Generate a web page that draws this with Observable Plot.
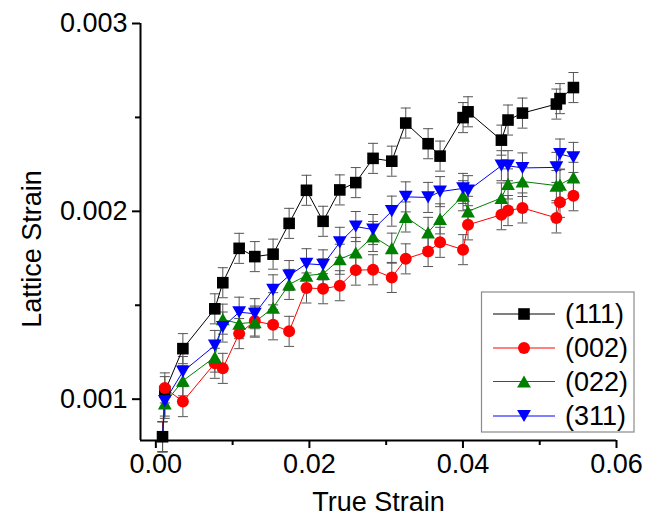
<!DOCTYPE html>
<html>
<head>
<meta charset="utf-8">
<script src="https://cdn.jsdelivr.net/npm/d3@7"></script>
<script src="https://cdn.jsdelivr.net/npm/@observablehq/plot@0.6"></script>
<style>
  html, body { margin: 0; padding: 0; background: #ffffff; }
  #chart svg { display: block; }
</style>
</head>
<body>
<div id="chart"></div>
<script>
// ---- data ----
const trueStrain = [0.00087, 0.00117, 0.00352, 0.00768, 0.00872, 0.01085, 0.01289, 0.01527, 0.01736,
  0.01962, 0.02178, 0.02396, 0.02604, 0.02829, 0.03073, 0.03255, 0.03546, 0.03702, 0.04001,
  0.04066, 0.04501, 0.04587, 0.04775, 0.05217, 0.05264, 0.05439];

const strain111 = [0.00080, 0.00104, 0.001269, 0.001481, 0.001620, 0.001803, 0.001759, 0.001772, 0.001936,
  0.002112, 0.001947, 0.002114, 0.002153, 0.002282, 0.002267, 0.002470, 0.002360, 0.002294, 0.002499,
  0.002530, 0.002379, 0.002486, 0.002523, 0.002571, 0.002600, 0.002659];

const strain002 = [0.00080, 0.001060, 0.000987, 0.001191, 0.001164, 0.001349, 0.001416, 0.001396, 0.001361,
  0.001592, 0.001588, 0.001604, 0.001687, 0.001689, 0.001648, 0.001747, 0.001786, 0.001835, 0.001796,
  0.001928, 0.001982, 0.002004, 0.002018, 0.001965, 0.002048, 0.002083];

const strain022 = [0.00080, 0.000978, 0.001098, 0.001224, 0.001426, 0.001402, 0.001410, 0.001487, 0.001611,
  0.001658, 0.001667, 0.001745, 0.001781, 0.001866, 0.001804, 0.001970, 0.001888, 0.001960, 0.002083,
  0.002000, 0.002071, 0.002146, 0.002159, 0.002137, 0.002142, 0.002181];

const strain311 = [0.00080, 0.000990, 0.001147, 0.001286, 0.001384, 0.001463, 0.001455, 0.001582, 0.001658,
  0.001721, 0.001715, 0.001835, 0.001919, 0.001903, 0.002001, 0.002077, 0.002074, 0.002105, 0.002122,
  0.002110, 0.002243, 0.002243, 0.002231, 0.002234, 0.002305, 0.002287];

const errorHalf = 0.00008;

const seriesNames = ["(111)", "(002)", "(022)", "(311)"];
const seriesValues = [strain111, strain002, strain022, strain311];
const seriesColors = ["#000000", "#ff0000", "#008000", "#0000ff"];
const seriesSymbols = ["square", "circle", "triangleUp", "triangleDown"];

const xMajorTicks = [0, 0.02, 0.04, 0.06];
const xMinorTicks = [0.01, 0.03, 0.05];
const yMajorTicks = [0.001, 0.002, 0.003];
const yMinorTicks = [0.0015, 0.0025];
const xDomain = [-0.002, 0.06];
const yDomain = [0.00078, 0.003];
const xTitle = "True Strain";
const yTitle = "Lattice Strain";

// ---- symbols ----
const rad = size => Math.sqrt(size / Math.PI);
const SYM = {
  square: { draw(c, size) { const r = rad(size); c.rect(-r, -r, 2 * r, 2 * r); } },
  circle: { draw(c, size) { const r = rad(size); c.moveTo(r, 0); c.arc(0, 0, r, 0, 2 * Math.PI); } },
  triangleUp: { draw(c, size) { const r = rad(size), h = r * 0.88; c.moveTo(0, -h); c.lineTo(r, h); c.lineTo(-r, h); c.closePath(); } },
  triangleDown: { draw(c, size) { const r = rad(size), h = r * 0.88; c.moveTo(0, h); c.lineTo(r, -h); c.lineTo(-r, -h); c.closePath(); } },
  cap: { draw(c, size) { const r = rad(size); c.moveTo(-r, 0); c.lineTo(r, 0); } }
};
const symR = { square: 5.8, circle: 6, triangleUp: 6.9, triangleDown: 6.9 };

// ---- table ----
const rows = [];
seriesNames.forEach((name, s) => {
  seriesValues[s].forEach((v, i) => rows.push({ series: name, s, i, x: trueStrain[i], y: v }));
});

const FONT = "'Liberation Sans', Arial, sans-serif";
const ERR_COLOR = "#555555";

const marks = [];
// error bars
marks.push(Plot.ruleX(rows, { x: "x", y1: d => d.y - errorHalf, y2: d => d.y + errorHalf, stroke: ERR_COLOR, strokeWidth: 1 }));
marks.push(Plot.dot(rows, { x: "x", y: d => d.y + errorHalf, symbol: SYM.cap, r: 5, stroke: ERR_COLOR, fill: "none", strokeWidth: 1 }));
marks.push(Plot.dot(rows, { x: "x", y: d => d.y - errorHalf, symbol: SYM.cap, r: 5, stroke: ERR_COLOR, fill: "none", strokeWidth: 1 }));
// lines
seriesNames.forEach((name, s) => {
  marks.push(Plot.line(rows.filter(d => d.s === s), { x: "x", y: "y", stroke: seriesColors[s], strokeWidth: 1 }));
});
// markers
seriesNames.forEach((name, s) => {
  const data = rows.filter(d => d.s === s && (s === 0 || d.i > 0));
  marks.push(Plot.dot(data, { x: "x", y: "y", symbol: SYM[seriesSymbols[s]], r: symR[seriesSymbols[s]], fill: seriesColors[s], stroke: "none" }));
});
// axes
marks.push(Plot.ruleX([xDomain[0]], { stroke: "#000", strokeWidth: 2 }));
marks.push(Plot.ruleY([yDomain[0]], { stroke: "#000", strokeWidth: 2 }));
marks.push(Plot.axisX(xMajorTicks, { tickSize: 8, tickPadding: 5, strokeWidth: 2, tickFormat: d => d.toFixed(2), label: null }));
marks.push(Plot.axisX(xMinorTicks, { tickSize: 5, strokeWidth: 2, tickFormat: () => "", label: null }));
marks.push(Plot.axisY(yMajorTicks, { tickSize: 8, tickPadding: 5, strokeWidth: 2, tickFormat: d => d.toFixed(3), label: null }));
marks.push(Plot.axisY(yMinorTicks, { tickSize: 5, strokeWidth: 2, tickFormat: () => "", label: null }));
// titles
marks.push(Plot.text([xTitle], { text: d => d, frameAnchor: "bottom", textAnchor: "middle", dy: 62, lineAnchor: "middle", fontSize: 27 }));
marks.push(Plot.text([yTitle], { text: d => d, frameAnchor: "left", textAnchor: "middle", dx: -108, dy: 17, rotate: -90, lineAnchor: "middle", fontSize: 27 }));

const chart = Plot.plot({
  width: 664,
  height: 523,
  marginLeft: 140,
  marginRight: 48,
  marginTop: 23,
  marginBottom: 83,
  style: { fontFamily: FONT, fontSize: "27px", color: "#000", background: "#fff" },
  x: { domain: xDomain },
  y: { domain: yDomain },
  marks
});
document.getElementById("chart").appendChild(chart);

// ---- legend (inside the plot area, lower right) ----
const svg = d3.select(chart);
const lg = svg.append("g").attr("font-family", FONT).attr("font-size", 27).attr("text-anchor", "start");
lg.append("rect").attr("x", 481.5).attr("y", 292).attr("width", 152.5).attr("height", 140)
  .attr("fill", "#fff").attr("stroke", "#8a8a8a").attr("stroke-width", 1.2);
const rowY = [314, 348, 381.5, 416];
seriesNames.forEach((name, s) => {
  const y = rowY[s];
  lg.append("line").attr("x1", 493).attr("x2", 555).attr("y1", y).attr("y2", y)
    .attr("stroke", seriesColors[s]).attr("stroke-width", 1);
  const r = symR[seriesSymbols[s]];
  lg.append("path").attr("transform", `translate(524,${y})`)
    .attr("d", d3.symbol(SYM[seriesSymbols[s]], r * r * Math.PI)())
    .attr("fill", seriesColors[s]);
  lg.append("text").attr("x", 565).attr("y", y).attr("dy", "0.35em")
    .attr("text-anchor", "start").attr("fill", "#000").text(name);
});
</script>
</body>
</html>
